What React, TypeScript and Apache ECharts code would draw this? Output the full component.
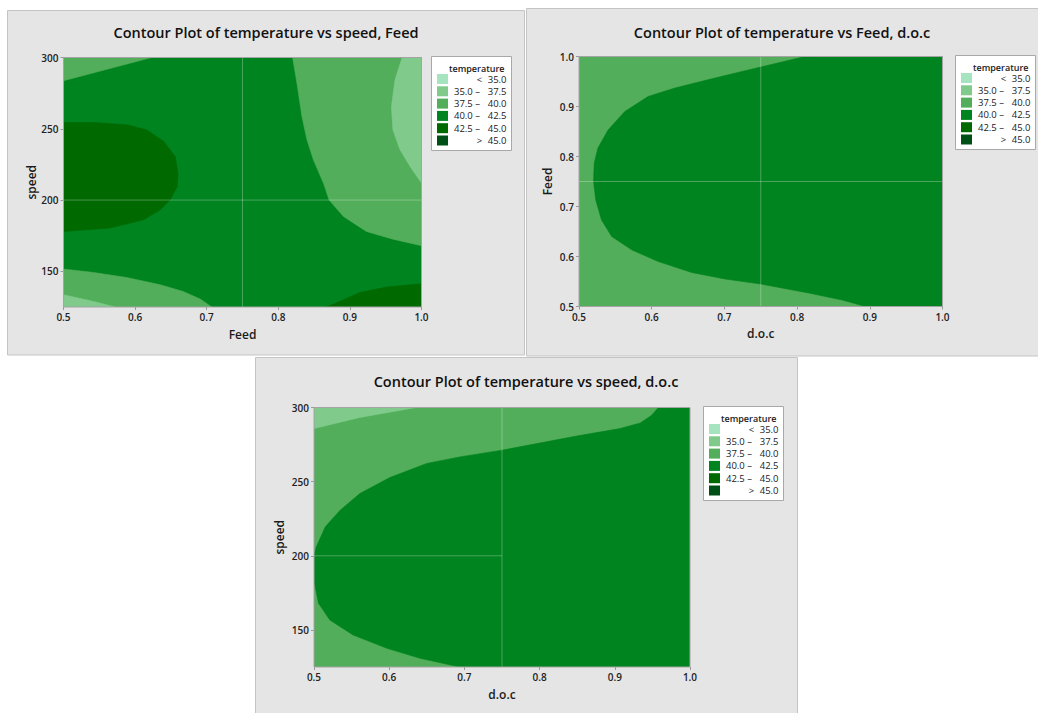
import React, { useEffect, useRef } from "react";
import * as echarts from "echarts";

type Pt = [number, number];

// ---------- data ----------
const unitTicks = [0.5, 0.6, 0.7, 0.8, 0.9, 1.0];
const speedTicks = [150, 200, 250, 300];

const levelColors = ["#a6e4bf", "#80cb8c", "#52ae5a", "#00841f", "#006a00", "#004f16"];
const legendLow = ["", "35.0", "37.5", "40.0", "42.5", ""];
const legendSym = ["<", "–", "–", "–", "–", ">"];
const legendHigh = ["35.0", "37.5", "40.0", "42.5", "45.0", "45.0"];

// Panel 1: speed (y) vs Feed (x)
const p1Base: Pt[] = [[0.5, 125], [1.0, 125], [1.0, 300], [0.5, 300]];
const p1TopLeft375: Pt[] = [[0.5, 300], [0.623, 300], [0.5, 283.7]];
const p1Right375: Pt[] = [[0.82, 300], [0.826, 282], [0.833, 258.6], [0.84, 242.3], [0.849, 228.3], [0.863, 211.9], [0.871, 200], [0.891, 188.5], [0.923, 178], [0.96, 172.6], [1.0, 168], [1.0, 300]];
const p1Right350: Pt[] = [[0.973, 300], [0.963, 284.4], [0.958, 265.6], [0.96, 249.3], [0.97, 235.3], [0.984, 223.6], [1.0, 211.9], [1.0, 300]];
const p1Left425: Pt[] = [[0.5, 254.4], [0.542, 254.4], [0.588, 252.8], [0.616, 249.3], [0.64, 241.1], [0.656, 230.6], [0.66, 218.9], [0.659, 209.5], [0.649, 200.2], [0.635, 193.2], [0.612, 186.2], [0.565, 180.4], [0.5, 178]];
const p1BottomLeft375: Pt[] = [[0.5, 151.6], [0.542, 149.2], [0.588, 145.7], [0.635, 140.6], [0.667, 135.9], [0.691, 130.6], [0.707, 125], [0.5, 125]];
const p1BottomLeft350: Pt[] = [[0.5, 133.6], [0.542, 128.9], [0.572, 125], [0.5, 125]];
const p1BottomRight425: Pt[] = [[0.867, 125], [0.891, 130.1], [0.914, 135.2], [0.951, 139], [1.0, 141.3], [1.0, 125]];

// Panel 2: Feed (y) vs d.o.c (x)
const p2Base: Pt[] = [[0.5, 0.5], [1.0, 0.5], [1.0, 1.0], [0.5, 1.0]];
const p2Core400: Pt[] = [[0.811, 1.0], [0.75, 0.979], [0.687, 0.957], [0.632, 0.937], [0.595, 0.92], [0.563, 0.89], [0.54, 0.853], [0.526, 0.817], [0.521, 0.787], [0.52, 0.751], [0.523, 0.713], [0.531, 0.673], [0.545, 0.64], [0.573, 0.613], [0.609, 0.59], [0.655, 0.568], [0.701, 0.555], [0.75, 0.545], [0.816, 0.527], [0.862, 0.513], [0.894, 0.5], [1.0, 0.5], [1.0, 1.0]];

// Panel 3: speed (y) vs d.o.c (x)
const p3Base: Pt[] = [[0.5, 125], [1.0, 125], [1.0, 300], [0.5, 300]];
const p3TopLeft350: Pt[] = [[0.5, 300], [0.636, 300], [0.561, 293.3], [0.5, 285.8]];
const p3Core400: Pt[] = [[0.958, 300], [0.949, 294.8], [0.934, 289.6], [0.907, 285.8], [0.849, 280.7], [0.75, 271.2], [0.694, 266.7], [0.65, 262.3], [0.601, 252.8], [0.561, 242], [0.535, 230.8], [0.515, 219.5], [0.503, 206], [0.5, 200], [0.5, 183], [0.506, 168], [0.521, 156.7], [0.552, 146.6], [0.597, 137.6], [0.641, 130.9], [0.694, 125], [1.0, 125], [1.0, 300]];

// reference lines (hold values)
const p1RefLines: Pt[][] = [[[0.75, 125], [0.75, 300]], [[0.5, 200], [1.0, 200]]];
const p2RefLines: Pt[][] = [[[0.75, 0.5], [0.75, 1.0]], [[0.5, 0.75], [1.0, 0.75]]];
const p3RefLines: Pt[][] = [[[0.75, 125], [0.75, 300]], [[0.5, 200], [0.75, 200]]];

const titles = [
  "Contour Plot of temperature vs speed, Feed",
  "Contour Plot of temperature vs Feed, d.o.c",
  "Contour Plot of temperature vs speed, d.o.c",
];

// ---------- layout ----------
const FONT = "'Open Sans', 'Noto Sans', sans-serif";
const grids = [
  { left: 63.5, top: 57.5, width: 358, height: 249.5 },
  { left: 579, top: 56.5, width: 363.5, height: 250 },
  { left: 314, top: 407.5, width: 376, height: 259.5 },
];
const panels = [
  { x: 7.5, y: 10.5, w: 517, h: 344.5 },
  { x: 526.5, y: 8.5, w: 520, h: 347.5 },
  { x: 255.5, y: 357.5, w: 542, h: 370 },
];
const titlePos = [[266, 32], [782, 32], [526, 381]];
const legendPos = [[431.5, 56.5], [955.5, 55.5], [703.5, 406.5]];

type Region = { level: number; pts: Pt[] };

function contourSeries(regions: Region[], idx: number) {
  return {
    type: "custom",
    coordinateSystem: "cartesian2d",
    xAxisIndex: idx,
    yAxisIndex: idx,
    silent: true,
    clip: true,
    z: 2,
    data: regions.map((r, i) => ({ value: [r.pts[0][0], r.pts[0][1], i] })),
    renderItem: (params: any, api: any) => {
      const r = regions[params.dataIndex];
      const points = r.pts.map((p) => api.coord(p));
      const c = levelColors[r.level];
      return {
        type: "polygon",
        shape: { points },
        style: { fill: c, stroke: c, lineWidth: 0.6 },
      };
    },
  };
}

function refSeries(lines: Pt[][], idx: number) {
  return lines.map((l) => ({
    type: "line",
    xAxisIndex: idx,
    yAxisIndex: idx,
    data: l,
    symbol: "none",
    silent: true,
    z: 5,
    lineStyle: { color: "rgba(255,255,255,0.28)", width: 1 },
  }));
}

function legendGroup(x: number, y: number) {
  const children: any[] = [
    { type: "rect", shape: { x: 0, y: 0, width: 80, height: 94 }, style: { fill: "#ffffff", stroke: "#a8a8a8", lineWidth: 1 } },
    { type: "text", x: 73, y: 11.5, style: { text: "temperature", fill: "#1a1a1a", font: `600 9px ${FONT}`, textAlign: "right", textVerticalAlign: "middle" } },
  ];
  for (let i = 0; i < 6; i++) {
    const cy = 22.5 + i * 12.3;
    children.push({ type: "rect", shape: { x: 5.5, y: cy - 5, width: 11, height: 10 }, style: { fill: levelColors[i] } });
    if (legendLow[i]) {
      children.push({ type: "text", x: 22.5, y: cy, style: { text: legendLow[i], fill: "#1a1a1a", font: `9.5px ${FONT}`, textAlign: "left", textVerticalAlign: "middle" } });
      children.push({ type: "text", x: 46, y: cy, style: { text: legendSym[i], fill: "#1a1a1a", font: `9.5px ${FONT}`, textAlign: "center", textVerticalAlign: "middle" } });
    } else {
      children.push({ type: "text", x: 48, y: cy, style: { text: legendSym[i], fill: "#1a1a1a", font: `9.5px ${FONT}`, textAlign: "center", textVerticalAlign: "middle" } });
    }
    children.push({ type: "text", x: 75, y: cy, style: { text: legendHigh[i], fill: "#1a1a1a", font: `9.5px ${FONT}`, textAlign: "right", textVerticalAlign: "middle" } });
  }
  return { type: "group", x, y, z: 100, children };
}

function xAxisOf(idx: number, name: string) {
  return {
    type: "value",
    gridIndex: idx,
    min: 0.5,
    max: 1.0,
    interval: 0.1,
    name,
    nameLocation: "middle",
    nameGap: 21,
    nameTextStyle: { fontFamily: FONT, fontSize: 12, fontWeight: 600, color: "#1a1a1a" },
    axisLine: { show: false },
    axisTick: { show: true, length: 3, lineStyle: { color: "#9a9a9a" }, customValues: unitTicks },
    axisLabel: { fontFamily: FONT, fontSize: 10, fontWeight: 600, color: "#222", margin: 5, customValues: unitTicks, formatter: (v: number) => v.toFixed(1) },
    splitLine: { show: false },
  };
}

function yAxisOf(idx: number, name: string, min: number, max: number, ticks: number[], digits: number, gap: number) {
  return {
    type: "value",
    gridIndex: idx,
    min,
    max,
    name,
    nameLocation: "middle",
    nameGap: gap,
    nameRotate: 90,
    nameTextStyle: { fontFamily: FONT, fontSize: 12, fontWeight: 600, color: "#1a1a1a" },
    axisLine: { show: false },
    axisTick: { show: true, length: 3, lineStyle: { color: "#9a9a9a" }, customValues: ticks },
    axisLabel: { fontFamily: FONT, fontSize: 10, fontWeight: 600, color: "#222", margin: 5, customValues: ticks, formatter: (v: number) => v.toFixed(digits) },
    splitLine: { show: false },
  };
}

export default function App() {
  const ref = useRef<HTMLDivElement>(null);
  useEffect(() => {
    if (!ref.current) return;
    const chart = echarts.init(ref.current, undefined, { renderer: "svg" });

    const p1: Region[] = [
      { level: 3, pts: p1Base },
      { level: 2, pts: p1TopLeft375 },
      { level: 2, pts: p1Right375 },
      { level: 1, pts: p1Right350 },
      { level: 4, pts: p1Left425 },
      { level: 2, pts: p1BottomLeft375 },
      { level: 1, pts: p1BottomLeft350 },
      { level: 4, pts: p1BottomRight425 },
    ];
    const p2: Region[] = [
      { level: 2, pts: p2Base },
      { level: 3, pts: p2Core400 },
    ];
    const p3: Region[] = [
      { level: 2, pts: p3Base },
      { level: 1, pts: p3TopLeft350 },
      { level: 3, pts: p3Core400 },
    ];

    const graphics: any[] = [];
    panels.forEach((p) => {
      graphics.push({ type: "rect", z: -10, shape: { x: p.x, y: p.y, width: p.w, height: p.h }, style: { fill: "#e5e5e5", stroke: "#c4c4c4", lineWidth: 1 } });
    });
    grids.forEach((g) => {
      graphics.push({ type: "rect", z: 50, shape: { x: g.left, y: g.top, width: g.width, height: g.height }, style: { fill: "none", stroke: "#a4a4a4", lineWidth: 1 } });
    });
    titles.forEach((t, i) => {
      graphics.push({ type: "text", z: 60, x: titlePos[i][0], y: titlePos[i][1], style: { text: t, fill: "#111", font: `600 14.5px ${FONT}`, textAlign: "center", textVerticalAlign: "middle" } });
    });
    legendPos.forEach((lp) => graphics.push(legendGroup(lp[0], lp[1])));

    chart.setOption({
      animation: false,
      backgroundColor: "#ffffff",
      grid: grids.map((g) => ({ ...g, containLabel: false })),
      xAxis: [xAxisOf(0, "Feed"), xAxisOf(1, "d.o.c"), xAxisOf(2, "d.o.c")],
      yAxis: [
        yAxisOf(0, "speed", 125, 300, speedTicks, 0, 26),
        { ...yAxisOf(1, "Feed", 0.5, 1.0, unitTicks, 1, 26), interval: 0.1 },
        yAxisOf(2, "speed", 125, 300, speedTicks, 0, 29),
      ],
      graphic: { elements: graphics },
      series: [
        contourSeries(p1, 0),
        contourSeries(p2, 1),
        contourSeries(p3, 2),
        ...refSeries(p1RefLines, 0),
        ...refSeries(p2RefLines, 1),
        ...refSeries(p3RefLines, 2),
      ],
    });
    return () => chart.dispose();
  }, []);
  return <div ref={ref} style={{ position: "absolute", left: 0, top: 0, width: 1038, height: 713 }} />;
}
